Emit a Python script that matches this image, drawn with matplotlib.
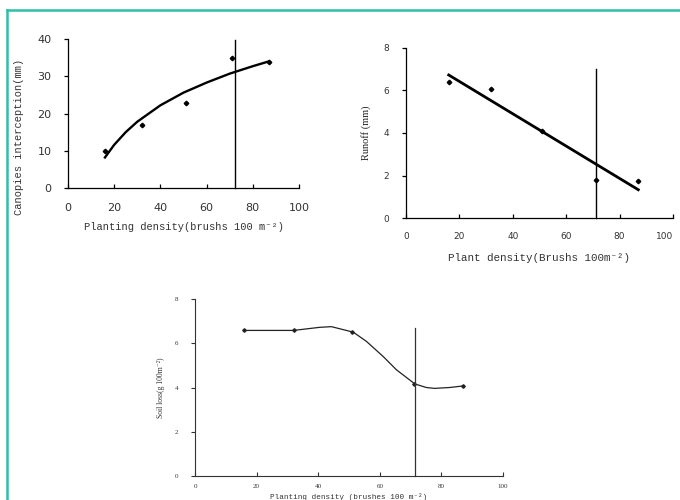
import matplotlib
matplotlib.use("Agg")
import matplotlib.pyplot as plt
from matplotlib.lines import Line2D

# Data
density = [16, 32, 51, 71, 87]

# (a) canopy interception
interception = [9.9, 16.8, 22.9, 34.8, 33.8]
fit1_x = [16, 20, 25, 30, 40, 50, 60, 70, 80, 87]
fit1_y = [8.2, 11.6, 15.0, 17.8, 22.2, 25.6, 28.3, 30.7, 32.7, 34.0]
vline1_x, vline1_top = 72.5, 39.7

# (b) runoff
runoff = [6.4, 6.07, 4.08, 1.79, 1.73]
fit2_x = [16, 87]
fit2_y = [6.73, 1.33]
vline2_x, vline2_top = 71.1, 7.0

# (c) soil loss, smoothed line
soil_loss = [6.58, 6.58, 6.5, 4.16, 4.07]
smooth3_x = [16, 32, 40.5, 44.3, 51.4, 55.7, 61.1, 65.4, 71.4, 75.1, 77.8, 82.7, 87]
smooth3_y = [6.58, 6.58, 6.72, 6.75, 6.5, 6.08, 5.4, 4.8, 4.16, 4.0, 3.96, 4.0, 4.07]
vline3_x, vline3_top = 71.5, 6.7

mono = ["Liberation Mono", "DejaVu Sans Mono"]
serif = ["Liberation Serif", "DejaVu Serif"]

fig = plt.figure(figsize=(6.8, 5), dpi=100)

# teal frame, only top and left edges are inside the picture
fx, fy = 7 / 680, 1 - 10 / 500
fig.add_artist(Line2D([fx, 1.0], [fy, fy], transform=fig.transFigure,
                      color="#2fbfa5", lw=1.8))
fig.add_artist(Line2D([fx, fx], [0, fy], transform=fig.transFigure,
                      color="#2fbfa5", lw=1.8))


def style(ax, ymax, ystep, tick_size, tick_family, lw=0.9, color="black"):
    ax.set_xlim(0, 100)
    ax.set_ylim(0, ymax)
    ax.set_xticks(range(0, 101, 20))
    ax.set_yticks(range(0, ymax + 1, ystep))
    for s in ["top", "right"]:
        ax.spines[s].set_visible(False)
    for s in ["left", "bottom"]:
        ax.spines[s].set_linewidth(lw)
        ax.spines[s].set_color(color)
    ax.tick_params(axis="x", direction="in", length=3, width=lw, colors=color)
    ax.tick_params(axis="y", direction="out", length=3, width=lw, colors=color)
    for lab in ax.get_xticklabels() + ax.get_yticklabels():
        lab.set_fontsize(tick_size)
        lab.set_family(tick_family)
        lab.set_color("#333333")
    ax.patch.set_alpha(0)


# Plot 1
ax1 = fig.add_axes([68 / 680, 1 - 188 / 500, 231 / 680, 149 / 500])
style(ax1, 40, 10, 8, ["DejaVu Sans"])
ax1.plot(fit1_x, fit1_y, color="black", lw=1.7)
ax1.plot(density, interception, "D", color="black", ms=2.3, ls="none")
ax1.plot([vline1_x, vline1_x], [0, vline1_top], color="black", lw=1, clip_on=False)
ax1.tick_params(axis="x", pad=11)
ax1.tick_params(axis="y", pad=9)
ax1.set_xlabel("Planting density(brushs 100 m⁻²)", family=mono, fontsize=7.5,
               color="#333333", labelpad=6)
ax1.set_ylabel("Canopies interception(mm)", family=mono, fontsize=7.5,
               color="#333333")
ax1.yaxis.set_label_coords(-0.19, 0.34)

# Plot 2
ax2 = fig.add_axes([406 / 680, 1 - 218 / 500, 267 / 680, 170 / 500])
style(ax2, 8, 2, 6.5, ["DejaVu Sans"])
ax2.get_xticklabels()[-1].set_ha("right")  # keep "100" inside the picture
ax2.plot(fit2_x, fit2_y, color="black", lw=2)
ax2.plot(density, runoff, "D", color="black", ms=2.3, ls="none")
ax2.plot([vline2_x, vline2_x], [0, vline2_top], color="black", lw=1, clip_on=False)
ax2.tick_params(axis="x", pad=10)
ax2.tick_params(axis="y", pad=9)
ax2.set_xlabel("Plant density(Brushs 100m⁻²)", family=mono, fontsize=7.8,
               color="#333333", labelpad=9)
ax2.set_ylabel("Runoff (mm)", family=serif, fontsize=7.5, color="#222222", labelpad=9)

# Plot 3
ax3 = fig.add_axes([195 / 680, 1 - 476 / 500, 308 / 680, 177 / 500])
style(ax3, 8, 2, 5, serif, lw=0.8, color="#333333")
ax3.plot(smooth3_x, smooth3_y, color="#222222", lw=0.9)
ax3.plot(density, soil_loss, "D", color="#222222", ms=1.8, ls="none")
ax3.plot([vline3_x, vline3_x], [0, vline3_top], color="#333333", lw=0.9, clip_on=False)
ax3.tick_params(axis="x", pad=6)
ax3.tick_params(axis="y", pad=9)
ax3.set_xlabel("Planting density (brushes 100 m⁻²)", family=mono, fontsize=5.5,
               color="#333333", labelpad=3)
ax3.set_ylabel("Soil loss(g 100m⁻²)", family=serif, fontsize=5.5, color="#333333",
               labelpad=7)

fig.savefig("out.png", dpi=100)
